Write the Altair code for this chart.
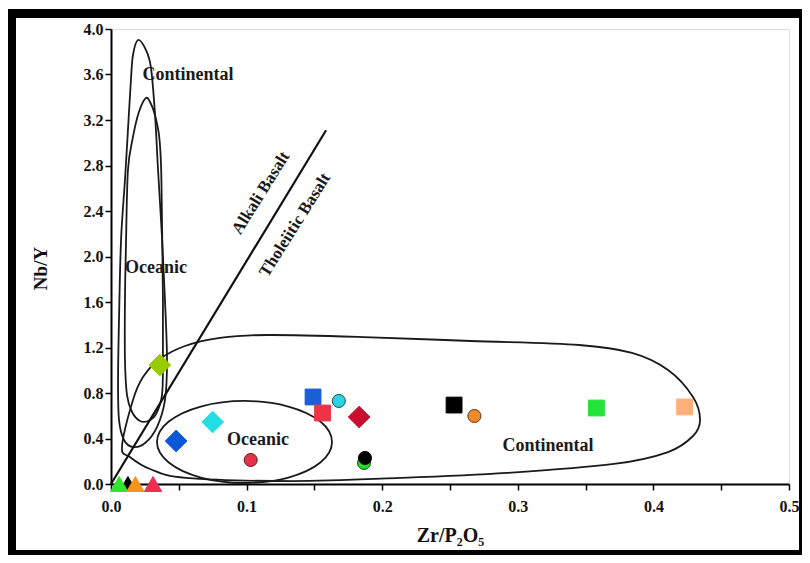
import altair as alt
import pandas as pd

# ---------------- sample points (Zr/P2O5, Nb/Y) ----------------
sample_id = ["S01", "S02", "S03", "S04", "S05", "S06", "S07", "S08", "S09",
             "S10", "S11", "S12", "S13", "S14", "S15", "S16", "S17", "S18"]
zr_p2o5 = [0.0125, 0.006, 0.018, 0.031, 0.036, 0.048, 0.075, 0.103, 0.149,
           0.156, 0.168, 0.183, 0.1866, 0.1873, 0.253, 0.268, 0.358, 0.423]
nb_y = [0.0, 0.0, 0.0, 0.0, 1.046, 0.378, 0.545, 0.211, 0.765,
        0.624, 0.730, 0.589, 0.185, 0.229, 0.694, 0.598, 0.668, 0.677]

# styles per sample (shape, fill, stroke)
STYLE = {
    "S01": ("triangle-up", "#000000", "#000000"),
    "S02": ("triangle-up", "#2ee82e", "#2ee82e"),
    "S03": ("triangle-up", "#f7941d", "#f7941d"),
    "S04": ("triangle-up", "#ee2d4f", "#ee2d4f"),
    "S05": ("diamond", "#96cc00", "#96cc00"),
    "S06": ("diamond", "#0b57d8", "#0b57d8"),
    "S07": ("diamond", "#22dde2", "#22dde2"),
    "S08": ("circle", "#e63247", "#5a1a20"),
    "S09": ("square", "#1a5fd6", "#1a5fd6"),
    "S10": ("square", "#ee3346", "#ee3346"),
    "S11": ("circle", "#2bd3e0", "#1d4a50"),
    "S12": ("diamond", "#c8102e", "#c8102e"),
    "S13": ("circle", "#2ed62e", "#1d4a1d"),
    "S14": ("circle", "#000000", "#000000"),
    "S15": ("square", "#000000", "#000000"),
    "S16": ("circle", "#f08a2c", "#5a3a10"),
    "S17": ("square", "#22e33a", "#22e33a"),
    "S18": ("square", "#ffb07a", "#ffb07a"),
}
SHAPE_SIZE = {"triangle-up": 300, "diamond": 470, "square": 250, "circle": 170}

# ---------------- field boundaries ----------------
cont_tall_x = [0.0199, 0.0258, 0.0295, 0.0324, 0.0347, 0.0376, 0.0398, 0.0413,
               0.0398, 0.0339, 0.0251, 0.0162, 0.0096, 0.0059, 0.0052, 0.0059,
               0.0074, 0.0103, 0.0125, 0.0147, 0.0162]
cont_tall_y = [3.903, 3.815, 3.657, 3.262, 2.760, 2.171, 1.618, 1.090,
               0.738, 0.501, 0.360, 0.325, 0.387, 0.563, 0.914, 1.442,
               2.145, 2.673, 3.112, 3.552, 3.771]

ocean_tall_x = [0.0258, 0.0295, 0.0324, 0.0354, 0.0369, 0.0376, 0.0383, 0.0383,
                0.0376, 0.0332, 0.0273, 0.0214, 0.0155, 0.0118, 0.0103, 0.0103,
                0.0111, 0.0125, 0.0162, 0.0206]
ocean_tall_y = [3.393, 3.341, 3.244, 3.068, 2.804, 2.321, 1.618, 1.090,
                0.782, 0.615, 0.554, 0.554, 0.633, 0.782, 1.090, 1.618,
                2.145, 2.760, 3.051, 3.270]

cont_big_x = [0.0081, 0.0162, 0.0236, 0.0361, 0.0546, 0.0804, 0.1158, 0.1866,
              0.2655, 0.3451, 0.3842, 0.4108, 0.4292, 0.4344, 0.4292, 0.4108,
              0.3709, 0.2920, 0.2131, 0.1342, 0.0553, 0.0288, 0.0140]
cont_big_y = [0.325, 0.738, 0.941, 1.099, 1.213, 1.284, 1.310, 1.292,
              1.257, 1.222, 1.152, 1.002, 0.765, 0.563, 0.422, 0.281,
              0.176, 0.097, 0.053, 0.026, 0.053, 0.132, 0.237]

ocean_small_x = [0.1630, 0.1544, 0.1308, 0.0985, 0.0662, 0.0426, 0.0339, 0.0426,
                 0.0662, 0.0985, 0.1308, 0.1544]
ocean_small_y = [0.369, 0.549, 0.681, 0.730, 0.681, 0.549, 0.369, 0.189,
                 0.057, 0.009, 0.057, 0.189]

divider_x = [0.0, 0.1586]
divider_y = [0.0, 3.11]

# ---------------- labels ----------------
field_text = ["Continental", "Oceanic", "Oceanic", "Continental"]
field_x = [0.0568, 0.0332, 0.1084, 0.3223]
field_y = [3.596, 1.899, 0.387, 0.334]

alk_text = ["Alkali Basalt"]
alk_x = [0.1106]
alk_y = [2.558]
tho_text = ["Tholeiitic Basalt"]
tho_x = [0.1357]
tho_y = [2.277]

x_ticks = [0.0, 0.05, 0.1, 0.15, 0.2, 0.25, 0.3, 0.35, 0.4, 0.45, 0.5]
y_ticks = [0.0, 0.2, 0.4, 0.6, 0.8, 1.0, 1.2, 1.4, 1.6, 1.8, 2.0, 2.2, 2.4,
           2.6, 2.8, 3.0, 3.2, 3.4, 3.6, 3.8, 4.0]

# ---------------- build tables ----------------
pts = pd.DataFrame({
    "id": sample_id, "x": zr_p2o5, "y": nb_y,
})
pts["i"] = range(len(pts))
pts["shape"] = [STYLE[s][0] for s in sample_id]
pts["fill"] = [STYLE[s][1] for s in sample_id]
pts["stroke"] = [STYLE[s][2] for s in sample_id]
pts["size"] = [SHAPE_SIZE[STYLE[s][0]] for s in sample_id]

rows = []
for name, xs, ys in [("cont_tall", cont_tall_x, cont_tall_y),
                     ("ocean_tall", ocean_tall_x, ocean_tall_y),
                     ("cont_big", cont_big_x, cont_big_y),
                     ("ocean_small", ocean_small_x, ocean_small_y)]:
    for k, (a, b) in enumerate(zip(xs, ys)):
        rows.append({"field": name, "k": k, "x": a, "y": b})
fields = pd.DataFrame(rows)
divider = pd.DataFrame({"x": divider_x, "y": divider_y})

FONT = "Liberation Serif"
W, H = 678, 455

xs = alt.X("x:Q", scale=alt.Scale(domain=[0, 0.5], nice=False, zero=False),
           axis=alt.Axis(
               title="Zr/P₂O₅", values=x_ticks,
               labelExpr="round(datum.value*100) % 10 == 0 ? format(datum.value, '.1f') : ''",
               grid=False, tickSize=6, tickColor="#000", tickWidth=1.5,
               domainColor="#000", domainWidth=2,
               labelFont=FONT, labelFontSize=16, labelFontWeight="bold", labelColor="#111",
               labelPadding=8, labelFlush=False, labelOverlap=False,
               titleFont=FONT, titleFontSize=20, titleFontWeight="bold", titleColor="#111",
               titlePadding=11))
ys = alt.Y("y:Q", scale=alt.Scale(domain=[0, 4], nice=False, zero=False),
           axis=alt.Axis(
               title="Nb/Y", values=y_ticks,
               labelExpr="round(datum.value*10) % 4 == 0 ? format(datum.value, '.1f') : ''",
               grid=False, tickSize=6, tickColor="#000", tickWidth=1.5,
               domainColor="#000", domainWidth=2,
               labelFont=FONT, labelFontSize=16, labelFontWeight="bold", labelColor="#111",
               labelPadding=2, labelFlush=False, labelOverlap=False,
               titleFont=FONT, titleFontSize=19, titleFontWeight="bold", titleColor="#111",
               titlePadding=33, titleY=239))

frame = alt.Chart(pd.DataFrame({"a": [0]})).mark_rect(
    fillOpacity=0, stroke="black", strokeWidth=9
).encode(
    x=alt.value(-99.5), x2=alt.value(692.5),
    y=alt.value(-15.5), y2=alt.value(525.5),
)

outline = alt.Chart(fields).mark_line(
    interpolate="cardinal-closed", color="#1a1a1a", strokeWidth=1.8
).encode(x=xs, y=ys, detail="field:N", order="k:Q")

div_line = alt.Chart(divider).mark_line(color="#111", strokeWidth=2.2).encode(
    x="x:Q", y="y:Q")

labels = alt.Chart(pd.DataFrame({"t": field_text, "x": field_x, "y": field_y})).mark_text(
    font=FONT, fontSize=18, fontWeight="bold", color="#1a1a1a"
).encode(x="x:Q", y="y:Q", text="t:N")

alk = alt.Chart(pd.DataFrame({"t": alk_text, "x": alk_x, "y": alk_y})).mark_text(
    font=FONT, fontSize=17, fontWeight="bold", color="#1a1a1a", angle=302
).encode(x="x:Q", y="y:Q", text="t:N")

tho = alt.Chart(pd.DataFrame({"t": tho_text, "x": tho_x, "y": tho_y})).mark_text(
    font=FONT, fontSize=17, fontWeight="bold", color="#1a1a1a", angle=302
).encode(x="x:Q", y="y:Q", text="t:N")

points = alt.Chart(pts).mark_point(filled=True, opacity=1, strokeWidth=1).encode(
    x="x:Q", y="y:Q",
    shape=alt.Shape("shape:N", scale=None),
    fill=alt.Fill("fill:N", scale=None),
    stroke=alt.Stroke("stroke:N", scale=None),
    size=alt.Size("size:Q", scale=None),
    order=alt.Order("i:Q"),
)

chart = alt.layer(frame, outline, div_line, labels, alk, tho, points).properties(
    width=W, height=H,
    autosize=alt.AutoSizeParams(type="none"),
    padding={"left": 103, "top": 21, "right": 13, "bottom": 71},
).configure_view(stroke="#222", strokeWidth=2).configure(background="white")

chart.save("out.html", embed_options={"renderer": "svg", "actions": False})
